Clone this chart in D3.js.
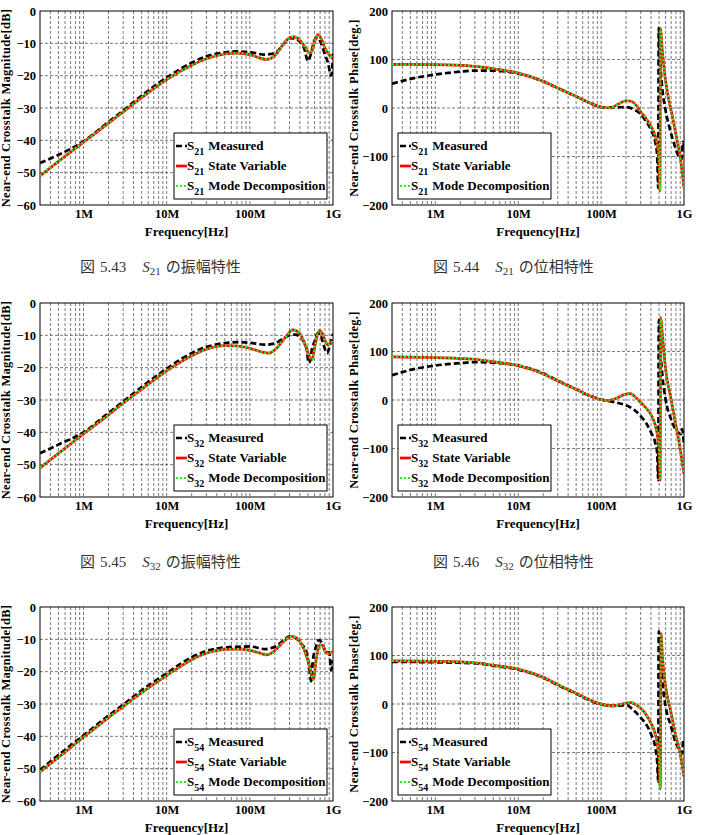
<!DOCTYPE html>
<html><head><meta charset="utf-8">
<script src="https://cdn.jsdelivr.net/npm/d3@7"></script>
<style>body{margin:0;background:#fff;} svg{display:block;}</style>
</head><body><svg id="c" width="701" height="835"></svg>
<script>
// ---------- axis / label data ----------
const freqTickValues = [1e6, 1e7, 1e8, 1e9];
const freqTickLabels = ["1M", "10M", "100M", "1G"];
const magTickValues = [0, -10, -20, -30, -40, -50, -60];
const phaseTickValues = [200, 100, 0, -100, -200];
const seriesNames = ["Measured", "State Variable", "Mode Decomposition"];
const paramNames = ["21", "32", "54"];
const captionNumbers = ["5.43", "5.44", "5.45", "5.46"];
const captionWords = ["振幅特性", "位相特性", "振幅特性", "位相特性"];

// ---------- series data: [frequency MHz, value] ----------
const s21MagMeasured = [[0.3,-47],[0.5,-44.5],[1,-40.3],[2,-34.3],[3,-30.8],[5,-26.2],[10,-20.6],[20,-16],[30,-14],[50,-12.8],[70,-12.5],[100,-12.7],[150,-13.5],[200,-13],[250,-10.5],[300,-8.4],[350,-8.5],[400,-9.5],[450,-11.5],[500,-15.5],[540,-13.5],[600,-9],[650,-8.3],[720,-10],[800,-13.5],[880,-16.5],[940,-20],[970,-19],[1000,-13]];
const s21MagStateVar = [[0.3,-51],[0.5,-46.5],[1,-40.6],[2,-34.7],[3,-31.2],[5,-26.8],[10,-21.2],[20,-16.8],[30,-14.8],[50,-13.3],[70,-13],[100,-13.5],[130,-14.5],[160,-15],[200,-13.8],[250,-10.5],[300,-8.3],[340,-8],[400,-9],[470,-11.5],[520,-13],[550,-12.8],[600,-9.5],[660,-7.3],[720,-8.5],[800,-11.5],[900,-13.5],[1000,-14.5]];
const s21MagModeDecomp = s21MagStateVar;

const s21PhaseMeasured = [[0.3,50],[0.5,60],[1,69],[2,75],[3,77],[5,77],[10,71],[20,55],[30,41],[50,24],[70,12],[100,2],[150,1],[200,2],[250,-3],[300,-13],[350,-28],[400,-45],[450,-70],[475,-100],[488,-165],[496,165],[510,110],[540,50],[600,-5],[680,-45],[780,-80],[880,-102],[940,-105],[970,-70],[1000,-80]];
const s21PhaseStateVar = [[0.3,90],[1,89.5],[3,86],[5,81],[10,72],[20,55],[30,41],[50,24],[70,12],[100,2],[130,0],[160,8],[200,15],[230,14],[270,4],[300,-8],[350,-22],[400,-38],[450,-58],[490,-90],[505,-130],[512,-170],[522,165],[540,130],[580,75],[650,20],[720,-15],[800,-55],[900,-100],[1000,-165]];
const s21PhaseModeDecomp = s21PhaseStateVar;

const s32MagMeasured = [[0.3,-46.5],[0.5,-43.8],[1,-40],[2,-34],[3,-30.5],[5,-26],[10,-20.3],[20,-15.5],[30,-13.6],[50,-12.4],[70,-12.1],[100,-12.3],[150,-12.9],[200,-12.5],[250,-11],[300,-10],[350,-9.8],[420,-11],[480,-14],[510,-18.5],[530,-18],[560,-14],[600,-12],[650,-9.5],[700,-9.5],[770,-13],[850,-15.5],[920,-13],[1000,-9.5]];
const s32MagStateVar = [[0.3,-51],[0.5,-46.5],[1,-40.5],[2,-34.6],[3,-31],[5,-26.7],[10,-21],[20,-16.3],[30,-14.3],[50,-13.2],[70,-13.3],[100,-14],[140,-15.2],[170,-15.5],[210,-14],[270,-10.5],[330,-8.3],[400,-9.5],[470,-13.5],[530,-17],[560,-17.5],[610,-13],[680,-8.5],[730,-9],[800,-11.5],[880,-13],[950,-12],[1000,-12.5]];
const s32MagModeDecomp = s32MagStateVar;

const s32PhaseMeasured = [[0.3,51],[0.5,62],[1,71],[2,76],[3,78],[5,77],[10,71],[20,55],[30,40],[50,22],[70,10],[100,1],[150,-5],[200,-11],[250,-20],[300,-33],[350,-48],[400,-67],[450,-88],[475,-110],[488,-165],[497,165],[520,100],[550,49],[600,1],[700,-40],[850,-67],[920,-70],[950,-60],[1000,-95]];
const s32PhaseStateVar = [[0.3,89],[1,87.5],[3,84],[5,79],[10,71],[20,54],[30,39],[50,22],[70,10],[100,1],[120,-1],[150,3],[190,11],[225,13],[270,3],[300,-5],[350,-17],[400,-30],[450,-52],[480,-75],[505,-120],[515,-165],[525,170],[545,140],[600,63],[700,1],[800,-53],[900,-101],[1000,-153]];
const s32PhaseModeDecomp = s32PhaseStateVar;

const s54MagMeasured = [[0.3,-50.4],[0.5,-45.8],[1,-39.7],[2,-33.6],[3,-30.2],[5,-25.8],[10,-20.5],[20,-15.5],[30,-13.6],[50,-12.5],[70,-12.3],[100,-12.2],[150,-13],[200,-12.3],[250,-10.5],[300,-9.1],[350,-9.5],[420,-11.5],[480,-14],[520,-19],[545,-23],[570,-17],[620,-12.5],[680,-10.2],[750,-11.5],[820,-14],[900,-14],[950,-19.5],[1000,-16.5]];
const s54MagStateVar = [[0.3,-51],[0.5,-46.5],[1,-40.3],[2,-34.2],[3,-30.8],[5,-26.5],[10,-21.2],[20,-16.3],[30,-14.3],[50,-13.1],[70,-13],[100,-13.4],[130,-14.2],[160,-14.8],[200,-13.5],[260,-10.5],[320,-9.1],[380,-10],[450,-13.2],[520,-18],[580,-22.5],[630,-16],[690,-11.8],[740,-11.8],[820,-14],[900,-14.5],[1000,-13.7]];
const s54MagModeDecomp = s54MagStateVar;

const s54PhaseMeasured = [[0.3,87],[1,86],[3,84],[5,79],[10,71],[20,54],[30,39],[50,21],[70,9],[100,-1],[150,-4],[200,-2],[250,-14],[300,-28],[350,-42],[400,-62],[450,-90],[475,-120],[488,-160],[496,150],[520,90],[550,43],[600,-5],[700,-47],[800,-81],[900,-95],[950,-102],[980,-74],[1000,-78]];
const s54PhaseStateVar = [[0.3,89],[1,88],[3,85],[5,80],[10,72],[20,55],[30,40],[50,22],[70,10],[100,0],[130,-4],[160,-2],[200,2],[230,3],[270,-3],[300,-9],[350,-22],[400,-40],[450,-62],[480,-85],[505,-125],[518,-175],[528,145],[550,95],[600,36],[700,-19],[800,-67],[900,-102],[1000,-150]];
const s54PhaseModeDecomp = s54PhaseStateVar;

// ---------- drawing ----------
const svg = d3.select("#c");
const SERIF = "'Liberation Serif','Times New Roman',serif";
const CJK = "'Noto Sans CJK JP','Noto Sans CJK SC',sans-serif";
const rowTops = [11, 303, 607];
const plotH = 194;
const leftX = 40, leftW = 293, rightX = 392, rightW = 292;

const panels = [
  {x0:leftX, y0:rowTops[0], w:leftW, kind:"mag", p:paramNames[0], data:[s21MagMeasured, s21MagStateVar, s21MagModeDecomp]},
  {x0:rightX, y0:rowTops[0], w:rightW, kind:"phase", p:paramNames[0], data:[s21PhaseMeasured, s21PhaseStateVar, s21PhaseModeDecomp]},
  {x0:leftX, y0:rowTops[1], w:leftW, kind:"mag", p:paramNames[1], data:[s32MagMeasured, s32MagStateVar, s32MagModeDecomp]},
  {x0:rightX, y0:rowTops[1], w:rightW, kind:"phase", p:paramNames[1], data:[s32PhaseMeasured, s32PhaseStateVar, s32PhaseModeDecomp]},
  {x0:leftX, y0:rowTops[2], w:leftW, kind:"mag", p:paramNames[2], data:[s54MagMeasured, s54MagStateVar, s54MagModeDecomp]},
  {x0:rightX, y0:rowTops[2], w:rightW, kind:"phase", p:paramNames[2], data:[s54PhaseMeasured, s54PhaseStateVar, s54PhaseModeDecomp]}
];

const styles = [
  {stroke:"#000", width:2.7, dash:"6,3"},
  {stroke:"#ff0000", width:2.7, dash:null},
  {stroke:"#22ee22", width:2.2, dash:"2,2"}
];

panels.forEach((P, idx) => {
  const h = plotH;
  const g = svg.append("g").attr("transform", `translate(${P.x0},${P.y0})`);
  const x = d3.scaleLog().domain([3e5, 1e9]).range([0, P.w]);
  const y = P.kind === "mag"
    ? d3.scaleLinear().domain([-60, 0]).range([h, 0])
    : d3.scaleLinear().domain([-200, 200]).range([h, 0]);
  const yTicks = P.kind === "mag" ? magTickValues : phaseTickValues;

  // vertical grid (major + minor)
  const vGrid = [];
  for (let e = 5; e <= 8; e++) for (let m = 1; m <= 9; m++) {
    const f = m * Math.pow(10, e);
    if (f > 3e5 && f < 1e9) vGrid.push(f);
  }
  g.selectAll(".vg").data(vGrid).join("line")
    .attr("x1", d => x(d)).attr("x2", d => x(d))
    .attr("y1", 0).attr("y2", h)
    .attr("stroke", "#444").attr("stroke-width", 0.7).attr("stroke-dasharray", "3,2");
  g.selectAll(".hg").data(yTicks.slice(1, -1)).join("line")
    .attr("x1", 0).attr("x2", P.w)
    .attr("y1", d => y(d)).attr("y2", d => y(d))
    .attr("stroke", "#444").attr("stroke-width", 0.7).attr("stroke-dasharray", "3,2");

  // axes
  const xa = g.append("g").attr("transform", `translate(0,${h})`)
    .call(d3.axisBottom(x).tickValues(freqTickValues).tickFormat((d, i) => freqTickLabels[i]).tickSize(0).tickPadding(4));
  xa.select(".domain").remove();
  xa.selectAll("text").attr("font-family", SERIF).attr("font-weight", "bold").attr("font-size", 12.5).attr("fill", "#000");
  const ya = g.append("g")
    .call(d3.axisLeft(y).tickValues(yTicks).tickFormat(d3.format("d")).tickSize(0).tickPadding(4));
  ya.select(".domain").remove();
  ya.selectAll("text").attr("font-family", SERIF).attr("font-weight", "bold").attr("font-size", 12.5).attr("fill", "#000");

  // frame
  g.append("rect").attr("x", 0).attr("y", 0).attr("width", P.w).attr("height", h)
    .attr("fill", "none").attr("stroke", "#000").attr("stroke-width", 1);

  // axis titles
  g.append("text").attr("x", P.w / 2).attr("y", h + 31)
    .attr("text-anchor", "middle").attr("font-family", SERIF).attr("font-weight", "bold").attr("font-size", 13)
    .text("Frequency[Hz]");
  const yTitleX = P.kind === "mag" ? -30 : -34;
  g.append("text").attr("transform", `translate(${yTitleX},${h / 2}) rotate(-90)`)
    .attr("text-anchor", "middle").attr("font-family", SERIF).attr("font-weight", "bold").attr("font-size", 12.5)
    .attr("letter-spacing", 0.3)
    .text(P.kind === "mag" ? "Near-end Crosstalk Magnitude[dB]" : "Near-end Crosstalk Phase[deg.]");

  // clip + lines
  const cid = "clip" + idx;
  g.append("clipPath").attr("id", cid).append("rect").attr("width", P.w).attr("height", h);
  const line = d3.line().x(d => x(d[0] * 1e6)).y(d => y(d[1])).curve(d3.curveMonotoneX);
  const lg = g.append("g").attr("clip-path", `url(#${cid})`);
  P.data.forEach((series, si) => {
    const s = styles[si];
    lg.append("path").datum(series).attr("d", line)
      .attr("fill", "none").attr("stroke", s.stroke).attr("stroke-width", s.width)
      .attr("stroke-dasharray", s.dash).attr("stroke-linejoin", "round");
  });

  // legend
  const lw = 153, lh = 66;
  const lx = P.kind === "mag" ? P.w - lw - 6 : 6;
  const ly = h - lh - 6;
  const L = g.append("g").attr("transform", `translate(${lx},${ly})`);
  L.append("rect").attr("width", lw).attr("height", lh).attr("fill", "#fff").attr("stroke", "#000").attr("stroke-width", 1);
  seriesNames.forEach((name, si) => {
    const cy = 13 + si * 20;
    const s = styles[si];
    L.append("line").attr("x1", 2).attr("x2", 13).attr("y1", cy).attr("y2", cy)
      .attr("stroke", s.stroke).attr("stroke-width", s.width).attr("stroke-dasharray", s.dash);
    const t = L.append("text").attr("x", 13).attr("y", cy + 4)
      .attr("font-family", SERIF).attr("font-weight", "bold").attr("font-size", 13);
    t.append("tspan").text("S");
    t.append("tspan").attr("font-size", 10).attr("dy", 5).text(P.p);
    t.append("tspan").attr("dy", -5).attr("dx", 4).text(name);
  });
});

// captions
const capY = [267, 562];
[[80, 0, 0], [433, 0, 1], [80, 1, 2], [433, 1, 3]].forEach(([cx, row, ci]) => {
  const t = svg.append("text").attr("x", cx).attr("y", capY[row] + 5)
    .attr("font-size", 15).attr("fill", "#333");
  t.append("tspan").attr("font-family", CJK).text("図");
  t.append("tspan").attr("font-family", SERIF).attr("dx", 5).text(captionNumbers[ci]);
  t.append("tspan").attr("font-family", SERIF).attr("font-style", "italic").attr("dx", 16).text("S");
  t.append("tspan").attr("font-family", SERIF).attr("font-size", 11).attr("dy", 3).text(paramNames[Math.floor(ci / 2)]);
  t.append("tspan").attr("font-family", CJK).attr("dy", -3).attr("dx", 5).text("の" + captionWords[ci]);
});
</script>
</body></html>
